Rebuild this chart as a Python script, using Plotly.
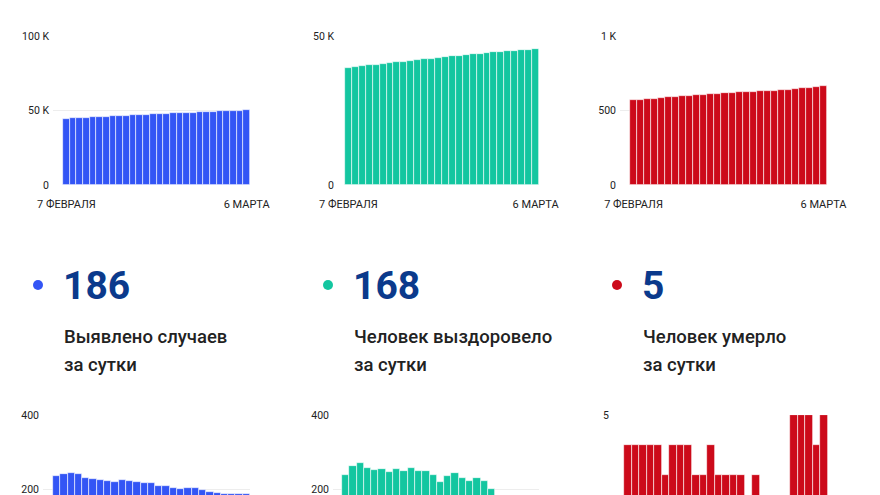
import plotly.graph_objects as go
import pandas as pd

# ---------- data ----------
dates_total = [d.strftime("%Y-%m-%d") for d in pd.date_range("2021-02-07", "2021-03-06")]
dates_daily = dates_total[1:]

cases_total = [44450, 44684, 44924, 45168, 45409, 45640, 45868, 46093, 46314, 46534,
               46757, 46979, 47198, 47415, 47630, 47839, 48047, 48251, 48450, 48652,
               48854, 49051, 49244, 49432, 49619, 49805, 49992, 50178]
recovered_total = [39400, 39639, 39902, 40172, 40428, 40679, 40932, 41177, 41430, 41678,
                   41934, 42182, 42430, 42668, 42887, 43123, 43366, 43597, 43819, 44048,
                   44270, 44470, 44650, 44826, 45008, 45182, 45352, 45520]
deaths_total = [568, 572, 576, 580, 584, 588, 591, 595, 599, 603, 606, 609, 613, 616,
                619, 622, 625, 627, 630, 632, 634, 636, 638, 643, 648, 653, 657, 662]

cases_daily = [234, 240, 244, 241, 231, 228, 225, 221, 220, 223, 222, 219, 217, 215,
               209, 208, 204, 199, 202, 202, 197, 193, 188, 187, 186, 187, 186]
recovered_daily = [239, 263, 270, 256, 251, 253, 245, 253, 248, 256, 248, 248, 238, 219,
                   236, 243, 231, 222, 229, 222, 200, 180, 176, 182, 174, 170, 168]
deaths_daily = [4, 4, 4, 4, 4, 3, 4, 4, 4, 3, 3, 4, 3, 3, 3, 3, 2, 3, 2, 2, 2, 2,
                5, 5, 5, 4, 5]

x_ticktext = ["7 ФЕВРАЛЯ", "6 МАРТА"]
labels_line1 = ["Выявлено случаев", "Человек выздоровело", "Человек умерло"]
labels_line2 = ["за сутки", "за сутки", "за сутки"]

top_ticks = [([0, 50000, 100000], ["0", "50 K", "100 K"], [0, 100000]),
             ([0, 50000], ["0", "50 K"], [0, 50000]),
             ([0, 500, 1000], ["0", "500", "1 K"], [0, 1000])]
bottom_ticks = [([200, 400], ["200", "400"], [183.8, 400]),
                ([200, 400], ["200", "400"], [183.8, 400]),
                ([5], ["5"], [2.333, 5])]

colors = ["#3355f5", "#13c6a0", "#cc0a1a"]
navy = "#0b3a8c"

W, H = 880, 495
FONT = "Roboto, Arial, sans-serif"

fig = go.Figure()
layout = dict(width=W, height=H, margin=dict(l=0, r=0, t=0, b=0, autoexpand=False),
              paper_bgcolor="white", plot_bgcolor="white", showlegend=False,
              bargap=0, font=dict(family=FONT, color="#222"))

# pixel geometry (left, right of plot area; x-range start)
top_geo = [(53, 250, -2.0), (338, 539, -1.5), (620, 827, -1.92)]
bot_geo = [(43, 250, -1.87), (333, 539, -1.73), (613, 828, -1.96)]

totals = [cases_total, recovered_total, deaths_total]
dailies = [cases_daily, recovered_daily, deaths_daily]

def px(x):
    return x / W

def py(y):
    return 1 - y / H

for i in range(3):
    # top chart
    n = i + 1
    xa = "x" if n == 1 else f"x{n}"
    ya = "y" if n == 1 else f"y{n}"
    fig.add_trace(go.Bar(x=dates_total, y=totals[i], marker=dict(color=colors[i],
                  line=dict(color="rgba(255,255,255,0.85)", width=0.7)),
                  xaxis=xa, yaxis=ya, hoverinfo="skip"))
    l, r, x0 = top_geo[i]
    tv, tt, rng = top_ticks[i]
    layout["xaxis" if n == 1 else f"xaxis{n}"] = dict(
        domain=[px(l), px(r)], anchor=ya, type="category",
        range=[x0, len(dates_total) - 0.5], showgrid=False, zeroline=False,
        showline=False, ticks="", tickvals=[dates_total[0], dates_total[-1]],
        ticktext=x_ticktext, tickfont=dict(size=11, color="#222"),
        ticklabelstandoff=11, ticklabeloverflow="allow", automargin=False,
        fixedrange=True)
    layout["yaxis" if n == 1 else f"yaxis{n}"] = dict(
        domain=[py(185), py(36)], anchor=xa, range=rng, tickvals=tv, ticktext=tt,
        showgrid=True, gridcolor="#ededed", gridwidth=1, zeroline=False,
        showline=False, ticks="", tickfont=dict(size=10.5, color="#222"),
        ticklabelstandoff=3, ticklabeloverflow="allow", automargin=False,
        fixedrange=True)

    # bottom chart
    m = i + 4
    xb = f"x{m}"
    yb = f"y{m}"
    fig.add_trace(go.Bar(x=dates_daily, y=dailies[i], marker=dict(color=colors[i],
                  line=dict(color="rgba(255,255,255,0.85)", width=0.7)),
                  xaxis=xb, yaxis=yb, hoverinfo="skip"))
    l, r, x0 = bot_geo[i]
    tv, tt, rng = bottom_ticks[i]
    layout[f"xaxis{m}"] = dict(
        domain=[px(l), px(r)], anchor=yb, type="category",
        range=[x0, len(dates_daily) - 0.5], showgrid=False, zeroline=False,
        showline=False, ticks="", showticklabels=False, automargin=False,
        fixedrange=True)
    layout[f"yaxis{m}"] = dict(
        domain=[0, py(415)], anchor=xb, range=rng, tickvals=tv, ticktext=tt,
        showgrid=True, gridcolor="#ededed", gridwidth=1, zeroline=False,
        showline=False, ticks="", tickfont=dict(size=10.5, color="#222"),
        ticklabelstandoff=3, ticklabeloverflow="allow", automargin=False,
        fixedrange=True)

fig.update_layout(**layout)

# big numbers, dots and labels
dot_x = [38, 328, 617]
text_x = [63, 353, 642]
shapes = []
annotations = []
for i in range(3):
    shapes.append(dict(type="circle", xref="paper", yref="paper",
                       x0=px(dot_x[i] - 5), x1=px(dot_x[i] + 5),
                       y0=py(285 + 5), y1=py(285 - 5),
                       fillcolor=colors[i], line=dict(width=0)))
    annotations.append(dict(text=f"<b>{dailies[i][-1]}</b>", xref="paper", yref="paper",
                            x=px(text_x[i] - 2), y=py(286), xanchor="left", yanchor="middle",
                            showarrow=False, font=dict(size=39, color=navy, family=FONT)))
    annotations.append(dict(text=labels_line1[i], xref="paper", yref="paper",
                            x=px(text_x[i] - 1), y=py(337), xanchor="left", yanchor="middle",
                            showarrow=False,
                            font=dict(size=18.5, color="#222", family=FONT, weight=500)))
    annotations.append(dict(text=labels_line2[i], xref="paper", yref="paper",
                            x=px(text_x[i] - 1), y=py(365), xanchor="left", yanchor="middle",
                            showarrow=False,
                            font=dict(size=18.5, color="#222", family=FONT, weight=500)))

fig.update_layout(shapes=shapes, annotations=annotations)
fig.write_html("out.html")
